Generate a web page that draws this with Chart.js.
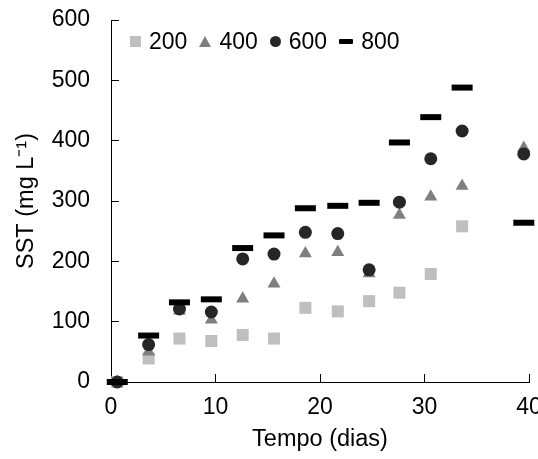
<!DOCTYPE html>
<html>
<head>
<meta charset="utf-8">
<script src="https://cdn.jsdelivr.net/npm/chart.js@4.4.1/dist/chart.umd.min.js"></script>
<style>
  html, body { margin: 0; padding: 0; background: #fff; overflow: hidden; }
  #wrap { position: relative; width: 538px; height: 459px; }
  #legend {
    position: absolute; left: 130px; top: 28px;
    display: flex; align-items: center;
    font: 23px 'Liberation Sans', Arial, sans-serif; color: #000;
  }
  .item { display: flex; align-items: center; margin-right: 12px; }
  .mark { margin-right: 8px; }
  .rect { width: 11px; height: 11px; }
  .circle { width: 11px; height: 11px; border-radius: 50%; }
  .triangle {
    width: 0; height: 0; background: none !important;
    border-left: 6.5px solid transparent; border-right: 6.5px solid transparent;
    border-bottom: 11px solid;
  }
  .line { width: 14px; height: 5px; border-radius: 1px; }
</style>
</head>
<body>
<div id="wrap">
  <canvas id="sstChart" width="538" height="459"></canvas>
  <div id="legend"></div>
</div>
<script>
// Data (days vs SST in mg/L)
const days = [0.6, 3.6, 6.55, 9.6, 12.6, 15.6, 18.6, 21.7, 24.7, 27.6, 30.6, 33.6, 39.5];
const sst200 = [0, 39, 72, 68, 78, 72, 123, 117, 134, 148, 179, 258];
const sst400 = [0, 50, 118, 103, 138, 163, 213, 215, 180, 277, 307, 325, 388];
const sst600 = [0, 62, 121, 116, 204, 212, 248, 246, 186, 298, 370, 416, 378];
const sst800 = [0, 77, 132, 137, 222, 243, 288, 292, 297, 397, 439, 488, 264];

const seriesLabels = ['200', '400', '600', '800'];
const seriesValues = [sst200, sst400, sst600, sst800];
const seriesColors = ['#bfbfbf', '#7f7f7f', '#262626', '#000000'];
const seriesMarkers = ['rect', 'triangle', 'circle', 'line'];
const markerRadius = [8.5, 7.5, 6.5, 10.5];

const xTicks = { min: 0, max: 40, step: 10 };
const yTicks = { min: 0, max: 600, step: 100 };

Chart.defaults.font.family = "'Liberation Sans', Arial, sans-serif";
Chart.defaults.color = '#000';

function buildDatasets() {
    return seriesValues.map((values, i) => {
        const isLine = seriesMarkers[i] === 'line';
        return {
            label: seriesLabels[i],
            data: values.map((v, j) => ({ x: days[j], y: v })),
            pointStyle: seriesMarkers[i],
            pointRadius: markerRadius[i],
            backgroundColor: seriesColors[i],
            borderColor: seriesColors[i],
            pointBorderWidth: isLine ? 6 : 0,
            showLine: false,
            clip: false,
            order: seriesLabels.length - 1 - i // later series on top
        };
    });
}

function buildLegend() {
    const legend = document.getElementById('legend');
    seriesLabels.forEach((label, i) => {
        const item = document.createElement('div');
        item.className = 'item';
        const mark = document.createElement('span');
        mark.className = 'mark ' + seriesMarkers[i];
        if (seriesMarkers[i] === 'triangle') {
            mark.style.borderBottomColor = seriesColors[i];
        } else {
            mark.style.background = seriesColors[i];
        }
        const text = document.createElement('span');
        text.textContent = label;
        item.appendChild(mark);
        item.appendChild(text);
        legend.appendChild(item);
    });
}

const ctx = document.getElementById('sstChart');
new Chart(ctx, {
    type: 'scatter',
    data: { datasets: buildDatasets() },
    options: {
        responsive: false,
        animation: false,
        events: [],
        layout: { autoPadding: false, padding: { top: 20, right: 9, bottom: 0, left: 0 } },
        plugins: {
            legend: { display: false },
            tooltip: { enabled: false }
        },
        scales: {
            x: {
                type: 'linear',
                min: xTicks.min,
                max: xTicks.max,
                ticks: { stepSize: xTicks.step, padding: 20, color: '#000', font: { size: 23 } },
                grid: { drawOnChartArea: false, tickLength: -8, color: '#000' },
                border: { color: '#000', width: 1 },
                title: {
                    display: true,
                    text: 'Tempo (dias)',
                    color: '#000',
                    font: { size: 23.5 },
                    padding: { top: 0, bottom: 5 }
                },
                afterFit: (scale) => {
                    scale.height = 77;
                    scale.paddingLeft = 0;
                    scale.paddingRight = 0;
                }
            },
            y: {
                min: yTicks.min,
                max: yTicks.max,
                ticks: { stepSize: yTicks.step, padding: 29, color: '#000', font: { size: 23 } },
                grid: { drawOnChartArea: false, tickLength: -8, color: '#000' },
                border: { color: '#000', width: 1 },
                title: {
                    display: true,
                    text: 'SST (mg L⁻¹)',
                    color: '#000',
                    font: { size: 23.5 },
                    padding: { top: 12, bottom: 0 }
                },
                afterFit: (scale) => {
                    scale.width = 111;
                    scale.paddingTop = 0;
                    scale.paddingBottom = 0;
                }
            }
        }
    }
});

buildLegend();
</script>
</body>
</html>
